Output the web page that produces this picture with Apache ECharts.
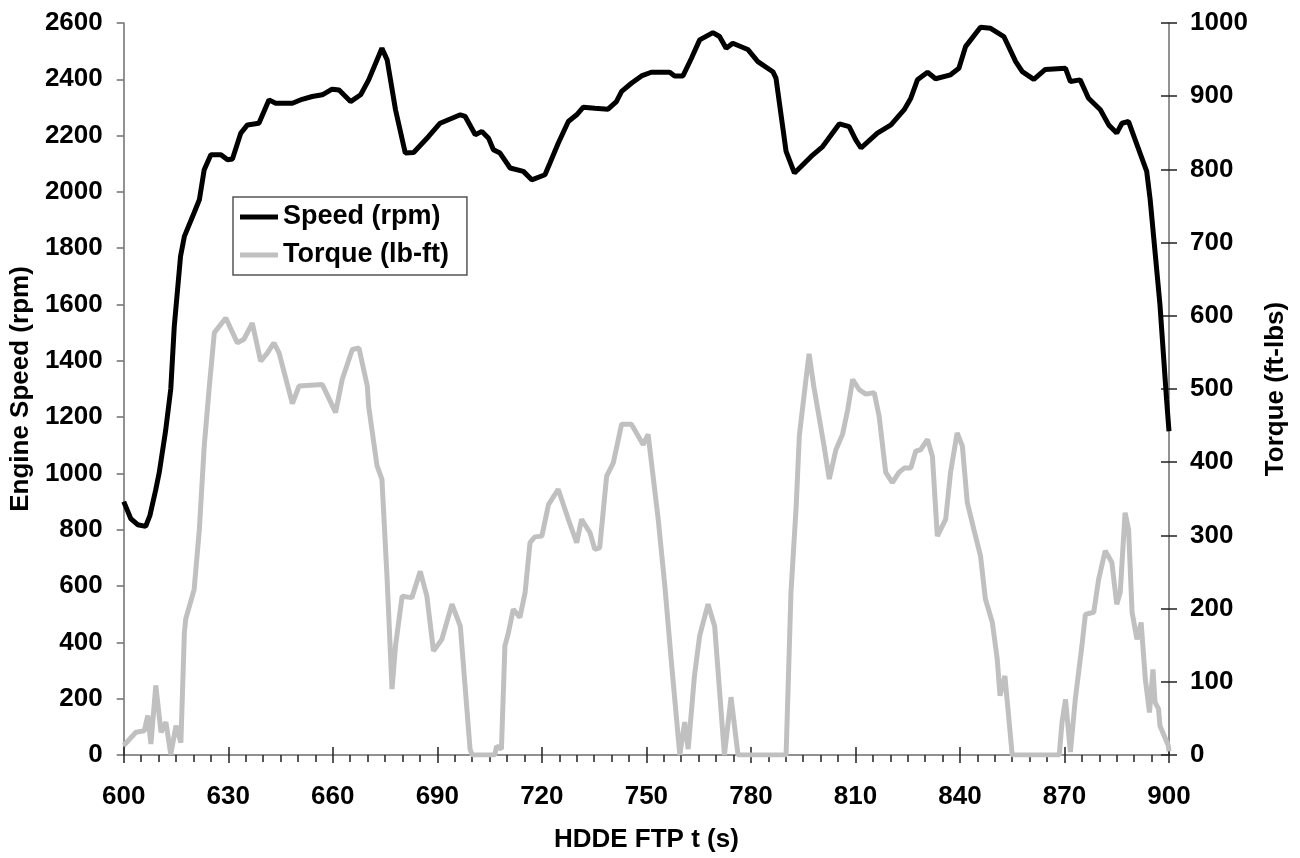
<!DOCTYPE html>
<html>
<head>
<meta charset="utf-8">
<title>Engine speed and torque</title>
<script src="https://cdn.jsdelivr.net/npm/echarts@6/dist/echarts.min.js"></script>
<style>
    html, body { margin: 0; padding: 0; background: #fff; }
    #chart { width: 1300px; height: 858px; }
</style>
</head>
<body>
<div id="chart"></div>
<script>
// 发动机转速 (rpm)
var speedTime = [600, 602, 604, 606.3, 607.5, 609.2, 610.2, 612, 613.5, 614.5, 616.3, 617.4, 620.2, 621.7, 623.1, 625, 627.9, 629.8, 631.2, 633.6,
    635.5, 638.8, 641.7, 643.6, 648.4, 651.2, 654.1, 657, 659.8, 661.8, 665.1, 668, 670.3, 674.1, 675.6, 678, 680.8, 683.2, 687.5, 690.8,
    696.6, 698, 700.9, 702.8, 704.7, 706.1, 708, 710.9, 714.7, 717.1, 720.9, 722.3, 724.7, 727.6, 730, 731.9, 735.2, 739, 741.4, 742.9,
    745.7, 748.6, 751.4, 756.7, 758.1, 760.5, 762.9, 765.3, 769.1, 771, 772.9, 774.8, 779.1, 782, 786.3, 787.2, 790.1, 792.5, 794.4, 797.3,
    800.6, 805.4, 808.2, 810.1, 811.6, 816.3, 820.2, 824, 825.9, 827.8, 830.7, 833, 837.3, 839.7, 841.6, 845.9, 848.8, 852.6, 856, 857.9,
    861.2, 864.5, 870.3, 871.7, 874.5, 876.9, 880.3, 882.7, 885, 886.5, 888.4, 890.3, 893.6, 894.6, 897.4, 899.3, 900];
var speedRpm = [900, 840, 818, 812, 850, 943, 1004, 1150, 1300, 1522, 1771, 1842, 1926, 1972, 2079, 2132, 2132, 2114, 2117, 2209,
    2238, 2244, 2327, 2315, 2315, 2329, 2339, 2345, 2365, 2362, 2321, 2345, 2398, 2510, 2469, 2292, 2138, 2140, 2197, 2244,
    2274, 2268, 2203, 2215, 2191, 2150, 2138, 2085, 2073, 2043, 2061, 2102, 2173, 2250, 2274, 2301, 2297, 2294, 2321, 2357,
    2386, 2412, 2425, 2425, 2412, 2412, 2474, 2540, 2566, 2552, 2510, 2528, 2506, 2463, 2427, 2404, 2144, 2067, 2090, 2126,
    2161, 2242, 2232, 2185, 2156, 2209, 2238, 2292, 2333, 2398, 2425, 2402, 2416, 2439, 2516, 2585, 2581, 2552, 2463, 2427,
    2400, 2435, 2439, 2392, 2398, 2333, 2292, 2238, 2209, 2244, 2250, 2185, 2073, 1972, 1600, 1263, 1150];

// 扭矩 (lb-ft)
var torqueTime = [600, 603.5, 605.9, 606.9, 607.8, 609.2, 610.7, 612.1, 613.5, 615, 616.4, 617.4, 617.8, 620.2, 621.7, 623.1, 624.5, 626, 629.3, 632.6,
    634.5, 636.9, 639.3, 641.2, 643.1, 644.6, 648.4, 650.3, 657, 660.8, 662.7, 665.6, 667.5, 669.9, 670.3, 672.7, 674.1, 675.6, 677, 678,
    679.9, 682.7, 685.1, 687, 688.9, 691.3, 694.2, 696.6, 699.4, 700, 706.5, 707, 708.4, 709.4, 710.4, 711.8, 713.7, 715.2, 716.6, 718,
    720, 721.9, 724.7, 727.6, 730, 731.4, 733.8, 735.2, 736.6, 738.6, 740.5, 742.9, 745.7, 749.1, 750.5, 753.4, 755.3, 757.2, 759.6, 761,
    762, 763.8, 765.3, 767.7, 769.6, 772.4, 774.3, 776.3, 790.1, 791.5, 793, 793.9, 795.8, 796.7, 798, 801, 802.5, 804.4, 806.3, 807.8,
    809.2, 811.1, 813, 815.4, 816.8, 818.7, 820.6, 822.5, 824, 825.9, 827.3, 828.7, 830.7, 832.1, 833.5, 835.9, 837.3, 839.2, 840.7, 842.1,
    844, 845.9, 847.3, 849.3, 850.7, 851.5, 852.9, 855, 868.5, 869.3, 870.3, 871.7, 873.1, 875, 876, 878.4, 879.8, 881.7, 883.6, 885,
    886, 887.4, 888.4, 889.4, 890.8, 892, 893.2, 894.4, 895.4, 896, 897, 897.4, 899.8, 900];
var torqueVal = [13, 31, 33, 54, 15, 95, 31, 45, 1, 40, 17, 167, 186, 226, 308, 422, 500, 577, 597, 563,
    568, 590, 538, 549, 563, 549, 480, 504, 506, 468, 513, 554, 556, 504, 476, 395, 377, 240, 90, 149,
    217, 215, 251, 217, 142, 158, 206, 176, 8, 0, 0, 12, 8, 149, 167, 199, 188, 222, 290, 298,
    299, 342, 363, 322, 290, 322, 304, 281, 283, 381, 399, 452, 452, 424, 438, 322, 231, 126, 0, 45,
    8, 108, 163, 206, 176, 0, 79, 0, 0, 222, 340, 436, 513, 548, 505, 422, 377, 417, 438, 472,
    513, 499, 493, 495, 463, 386, 372, 386, 392, 392, 415, 417, 431, 408, 299, 322, 386, 440, 422, 345,
    308, 272, 213, 181, 131, 81, 108, 0, 0, 45, 76, 4, 76, 149, 192, 195, 240, 279, 263, 206,
    222, 331, 308, 195, 158, 181, 104, 58, 117, 72, 63, 40, 13, 5];

var FONT = '"Liberation Sans", Arial, sans-serif';
var AXIS_COLOR = '#6e6e6e';
var TICK_COLOR = '#222';

function zip (xs, ys) {
    return xs.map(function (x, i) {
        return [x, ys[i]];
    });
}

// 刻度标签不要千分位
function plain (v) {
    return String(v);
}

var labelStyle = {
    fontFamily: FONT,
    fontSize: 26,
    fontWeight: 'bold',
    color: '#000',
    formatter: plain
};

var titleStyle = {
    fontFamily: FONT,
    fontSize: 26,
    fontWeight: 'bold',
    color: '#000'
};

var myChart = echarts.init(document.getElementById('chart'));
myChart.setOption({
    animation: false,
    backgroundColor: '#fff',
    textStyle: {
        fontFamily: FONT
    },
    grid: {
        left: 121,
        right: 131,
        top: 23,
        bottom: 102
    },
    legend: {
        orient: 'vertical',
        left: 233,
        top: 197,
        padding: [5, 18, 5, 7],
        itemGap: 8,
        itemWidth: 38,
        itemHeight: 5,
        icon: 'rect',
        borderColor: '#555',
        borderWidth: 1.5,
        backgroundColor: '#fff',
        textStyle: {
            fontFamily: FONT,
            fontSize: 27,
            fontWeight: 'bold',
            color: '#000',
            lineHeight: 30
        },
        data: ['Speed (rpm)', 'Torque (lb-ft)']
    },
    xAxis: [{
        type: 'value',
        min: 600,
        max: 900,
        interval: 30,
        name: 'HDDE FTP t (s)',
        nameLocation: 'middle',
        nameGap: 72,
        nameTextStyle: titleStyle,
        axisLine: {
            onZero: false,
            lineStyle: {color: AXIS_COLOR, width: 1.5}
        },
        axisTick: {
            show: true,
            length: 8,
            lineStyle: {color: TICK_COLOR, width: 1.5}
        },
        minorTick: {
            show: true,
            splitNumber: 6,
            length: 7,
            lineStyle: {color: TICK_COLOR, width: 1.5}
        },
        axisLabel: Object.assign({margin: 29}, labelStyle),
        splitLine: {show: false}
    }, {
        // 主刻度向内的一半
        type: 'value',
        position: 'bottom',
        min: 600,
        max: 900,
        interval: 30,
        axisLine: {show: false, onZero: false},
        axisTick: {
            show: true,
            inside: true,
            length: 8,
            lineStyle: {color: TICK_COLOR, width: 1.5}
        },
        axisLabel: {show: false},
        splitLine: {show: false}
    }],
    yAxis: [{
        type: 'value',
        position: 'left',
        min: 0,
        max: 2600,
        interval: 200,
        name: 'Engine Speed (rpm)',
        nameLocation: 'middle',
        nameGap: 86,
        nameRotate: 90,
        nameTextStyle: titleStyle,
        axisLine: {
            show: true,
            lineStyle: {color: AXIS_COLOR, width: 1.5}
        },
        axisTick: {
            show: true,
            length: 7,
            lineStyle: {color: AXIS_COLOR, width: 1.5}
        },
        axisLabel: Object.assign({margin: 21}, labelStyle),
        splitLine: {show: false}
    }, {
        type: 'value',
        position: 'right',
        min: 0,
        max: 1000,
        interval: 100,
        name: 'Torque (ft-lbs)',
        nameLocation: 'middle',
        nameGap: 94,
        nameRotate: 90,
        nameTextStyle: titleStyle,
        axisLine: {
            show: true,
            lineStyle: {color: AXIS_COLOR, width: 1.5}
        },
        axisTick: {
            show: true,
            length: 8,
            lineStyle: {color: TICK_COLOR, width: 1.5}
        },
        axisLabel: Object.assign({margin: 21}, labelStyle),
        splitLine: {show: false}
    }, {
        // 右轴刻度向内的一半
        type: 'value',
        position: 'right',
        min: 0,
        max: 1000,
        interval: 100,
        axisLine: {show: false},
        axisTick: {
            show: true,
            inside: true,
            length: 8,
            lineStyle: {color: TICK_COLOR, width: 1.5}
        },
        axisLabel: {show: false},
        splitLine: {show: false}
    }],
    series: [{
        name: 'Speed (rpm)',
        type: 'line',
        xAxisIndex: 0,
        yAxisIndex: 0,
        showSymbol: false,
        z: 3,
        color: '#000',
        lineStyle: {color: '#000', width: 5},
        data: zip(speedTime, speedRpm)
    }, {
        name: 'Torque (lb-ft)',
        type: 'line',
        xAxisIndex: 0,
        yAxisIndex: 1,
        showSymbol: false,
        z: 2,
        color: '#c0c0c0',
        lineStyle: {color: '#c0c0c0', width: 5},
        data: zip(torqueTime, torqueVal)
    }]
});
</script>
</body>
</html>
